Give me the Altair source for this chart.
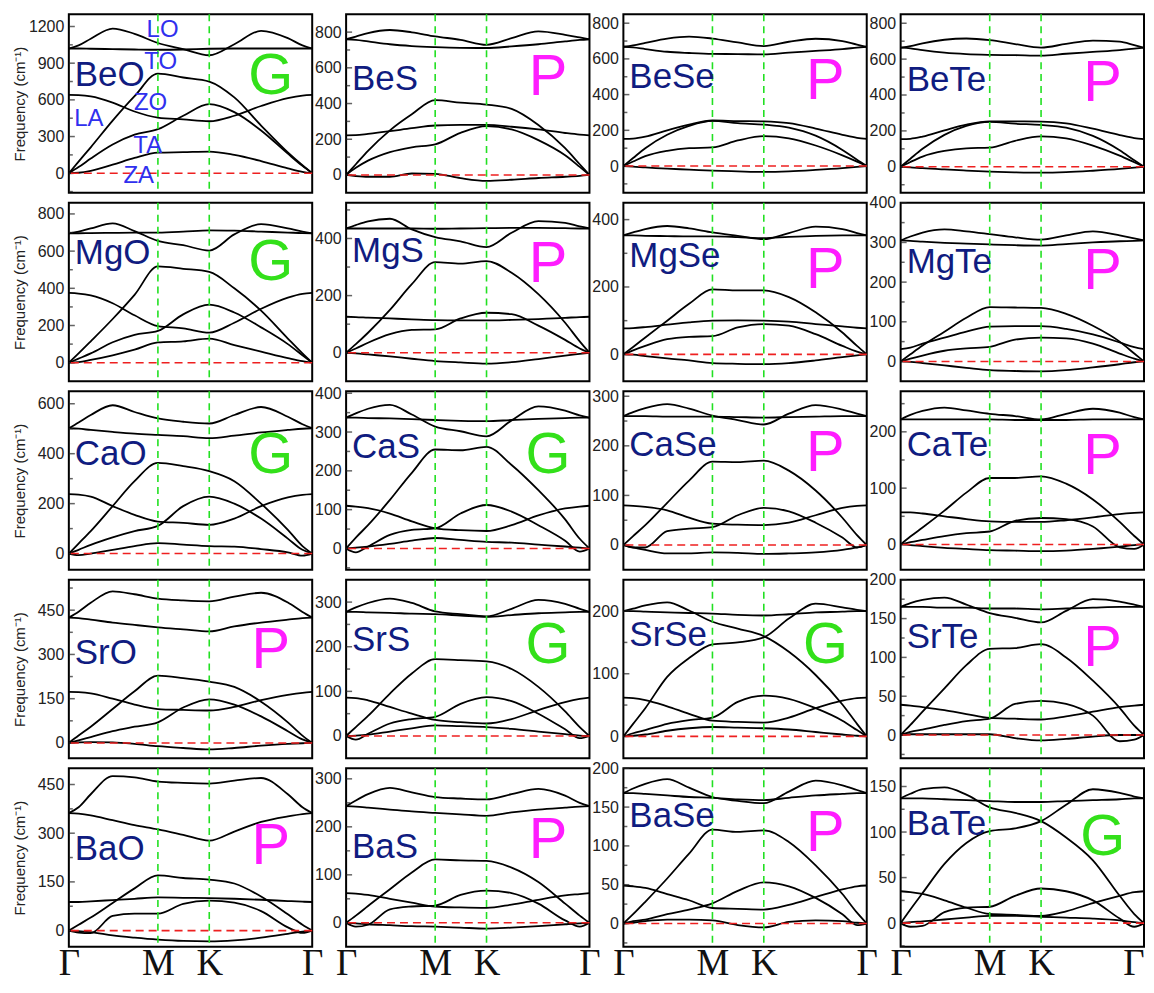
import altair as alt
import pandas as pd

# q-path sample positions: Γ ... M ... K ... Γ
XS = [0, 0.04, 0.09, 0.18, 0.27, 0.366, 0.47, 0.577, 0.68, 0.79, 0.90, 0.96, 1.0]
M_POS, K_POS = 0.366, 0.577
XTICKS = [0, 0.366, 0.577, 1.0]
BRANCHES = ["ZA", "TA", "LA", "ZO", "TO", "LO"]

# frequencies (cm^-1) of each branch at XS
BeO = [
    [0, 4, 20, 70, 125, 168, 172, 177, 150, 100, 40, 12, 0],
    [0, 50, 120, 235, 315, 360, 470, 565, 500, 350, 160, 60, 0],
    [0, 95, 212, 430, 630, 815, 783, 750, 620, 390, 170, 65, 0],
    [640, 638, 628, 578, 505, 455, 440, 425, 470, 550, 615, 635, 640],
    [1020, 1020, 1018, 1015, 1012, 1010, 1012, 1018, 1020, 1020, 1020, 1020, 1020],
    [1020, 1045, 1100, 1183, 1140, 1065, 1015, 965, 1055, 1165, 1105, 1045, 1020],
]
BeS = [
    [0, -6, -10, -10, 8, 6, -18, -33, -27, -17, -10, -5, 0],
    [0, 40, 80, 128, 155, 171, 236, 273, 255, 195, 110, 45, 0],
    [0, 60, 135, 250, 340, 419, 405, 394, 370, 280, 150, 60, 0],
    [222, 223, 230, 245, 262, 277, 280, 280, 270, 255, 235, 226, 222],
    [760, 757, 748, 732, 722, 716, 712, 711, 720, 732, 748, 756, 760],
    [760, 775, 795, 812, 799, 776, 757, 729, 766, 804, 785, 770, 760],
]
BeSe = [
    [0, -3, -8, -15, -20, -26, -30, -33, -30, -22, -12, -5, 0],
    [0, 25, 55, 85, 100, 104, 143, 167, 155, 115, 60, 25, 0],
    [0, 45, 100, 175, 225, 253, 240, 232, 215, 170, 90, 35, 0],
    [152, 154, 165, 200, 232, 255, 252, 250, 240, 210, 175, 158, 152],
    [668, 664, 655, 640, 633, 628, 627, 625, 635, 645, 655, 663, 668],
    [668, 676, 690, 714, 725, 714, 692, 672, 696, 713, 700, 680, 668],
]
BeTe = [
    [0, -3, -8, -15, -21, -27, -31, -33, -30, -22, -12, -5, 0],
    [0, 27, 57, 88, 103, 107, 145, 170, 158, 118, 62, 25, 0],
    [0, 45, 100, 178, 228, 250, 240, 233, 218, 172, 92, 36, 0],
    [154, 156, 168, 203, 235, 253, 253, 252, 242, 212, 177, 160, 154],
    [664, 660, 650, 636, 628, 624, 622, 619, 630, 640, 650, 658, 664],
    [664, 672, 688, 708, 715, 706, 684, 664, 685, 703, 698, 678, 664],
]
MgO = [
    [0, 3, 15, 40, 70, 109, 115, 130, 95, 60, 25, 8, 0],
    [0, 22, 50, 110, 150, 171, 260, 312, 270, 190, 100, 40, 0],
    [0, 50, 115, 235, 365, 518, 505, 488, 400, 280, 130, 50, 0],
    [375, 372, 362, 320, 255, 197, 185, 162, 215, 290, 350, 370, 375],
    [696, 696, 697, 698, 699, 700, 705, 712, 710, 705, 700, 697, 696],
    [696, 705, 722, 749, 708, 655, 632, 603, 690, 745, 722, 705, 696],
]
MgS = [
    [0, -2, -6, -13, -21, -29, -34, -38, -33, -22, -10, -4, 0],
    [0, 15, 35, 65, 80, 82, 120, 140, 135, 95, 45, 15, 0],
    [0, 30, 70, 150, 240, 317, 312, 321, 280, 205, 105, 40, 0],
    [126, 125, 123, 120, 117, 114, 113, 113, 115, 118, 122, 125, 126],
    [435, 435, 435, 435, 435, 434, 435, 436, 437, 437, 436, 435, 435],
    [435, 447, 460, 469, 432, 405, 390, 370, 420, 461, 455, 442, 435],
]
MgSe = [
    [0, -1, -5, -12, -18, -26, -28, -29, -26, -18, -8, -3, 0],
    [0, 12, 25, 45, 52, 54, 80, 90, 85, 60, 25, 8, 0],
    [0, 22, 50, 100, 150, 193, 190, 190, 170, 125, 65, 25, 0],
    [77, 78, 81, 88, 95, 100, 101, 100, 97, 90, 83, 79, 77],
    [353, 353, 352, 351, 350, 350, 348, 345, 349, 352, 353, 353, 353],
    [353, 362, 372, 381, 374, 362, 352, 342, 360, 379, 372, 360, 353],
]
MgTe = [
    [0, -1, -4, -10, -16, -22, -24, -25, -22, -15, -7, -2, 0],
    [0, 7, 15, 27, 33, 37, 55, 60, 58, 45, 20, 7, 0],
    [0, 18, 40, 75, 110, 137, 136, 135, 120, 90, 50, 20, 0],
    [31, 35, 45, 60, 75, 88, 89, 89, 82, 68, 48, 36, 31],
    [305, 304, 302, 299, 297, 295, 293, 292, 296, 300, 303, 304, 305],
    [305, 315, 325, 333, 328, 321, 313, 307, 318, 328, 318, 310, 305],
]
CaO = [
    [0, -6, 0, 15, 30, 42, 36, 30, 28, 18, 5, -8, 0],
    [0, 15, 35, 65, 90, 111, 190, 228, 200, 140, 60, 15, 0],
    [0, 40, 90, 190, 290, 363, 350, 330, 290, 200, 95, 30, 0],
    [238, 236, 228, 190, 155, 128, 123, 115, 140, 190, 225, 235, 238],
    [502, 500, 495, 487, 480, 475, 470, 462, 472, 485, 495, 500, 502],
    [502, 525, 555, 594, 567, 541, 528, 521, 555, 587, 548, 518, 502],
]
CaS = [
    [0, 2, 5, 12, 20, 27, 22, 17, 15, 10, 5, 2, 0],
    [0, -10, 5, 35, 48, 52, 90, 112, 95, 60, 20, -8, 0],
    [0, 28, 60, 125, 195, 255, 253, 262, 215, 150, 75, 25, 0],
    [110, 108, 104, 90, 70, 52, 47, 45, 60, 85, 103, 108, 110],
    [337, 337, 336, 335, 333, 331, 329, 328, 331, 334, 336, 337, 337],
    [337, 348, 360, 370, 345, 314, 302, 289, 330, 366, 355, 343, 337],
]
CaSe = [
    [0, -5, -10, -17, -17, -15, -16, -18, -17, -15, -10, -5, 0],
    [0, -5, -5, 28, 33, 36, 60, 75, 68, 45, 15, -5, 0],
    [0, 18, 40, 85, 130, 168, 167, 170, 150, 110, 55, 20, 0],
    [80, 79, 77, 70, 55, 43, 41, 40, 45, 60, 75, 79, 80],
    [260, 260, 260, 259, 259, 259, 258, 257, 258, 259, 260, 260, 260],
    [260, 268, 276, 284, 275, 261, 252, 243, 265, 282, 273, 265, 260],
]
CaTe = [
    [0, -1, -3, -6, -8, -10, -11, -12, -11, -8, -4, -1, 0],
    [0, 4, 8, 15, 20, 23, 42, 47, 45, 32, -5, -8, 0],
    [0, 14, 30, 60, 92, 118, 118, 121, 108, 80, 40, 15, 0],
    [57, 57, 55, 50, 45, 41, 40, 40, 43, 48, 54, 56, 57],
    [222, 222, 222, 222, 222, 222, 221, 221, 221, 222, 222, 222, 222],
    [222, 230, 237, 243, 238, 232, 228, 222, 232, 241, 234, 226, 222],
]
SrO = [
    [0, 2, 3, 2, -3, -11, -17, -22, -17, -9, -3, -1, 0],
    [0, 9, 20, 40, 55, 70, 120, 148, 130, 90, 40, 12, 0],
    [0, 25, 55, 115, 175, 228, 220, 208, 190, 140, 70, 25, 0],
    [173, 172, 168, 150, 130, 115, 112, 110, 122, 145, 163, 170, 173],
    [425, 423, 418, 408, 400, 392, 385, 378, 395, 408, 418, 423, 425],
    [425, 445, 475, 514, 504, 489, 483, 480, 496, 509, 476, 444, 425],
]
SrS = [
    [0, 1, 3, 10, 17, 24, 22, 20, 16, 10, 4, 1, 0],
    [0, -8, 5, 28, 38, 43, 72, 87, 78, 50, 15, -5, 0],
    [0, 20, 45, 95, 140, 172, 170, 167, 150, 110, 55, 20, 0],
    [86, 85, 80, 65, 50, 36, 31, 28, 38, 58, 76, 83, 86],
    [278, 278, 277, 276, 274, 273, 270, 267, 271, 275, 277, 278, 278],
    [278, 288, 298, 308, 298, 279, 273, 268, 285, 305, 296, 285, 278],
]
SrSe = [
    [0, 1, 3, 9, 13, 15, 14, 13, 11, 7, 3, 1, 0],
    [0, 5, 10, 20, 26, 30, 55, 65, 60, 45, 25, 10, 0],
    [0, 20, 45, 95, 125, 147, 150, 158, 188, 212, 206, 202, 200],
    [62, 61, 58, 48, 36, 25, 23, 22, 30, 45, 57, 61, 62],
    [200, 200, 199, 198, 197, 196, 194, 193, 195, 198, 199, 200, 200],
    [200, 204, 209, 214, 201, 183, 172, 160, 135, 98, 51, 20, 0],
]
SrTe = [
    [0, 1, 1, 1, 1, 1, -4, -7, -5, -2, 0, 0, 0],
    [0, 4, 7, 13, 18, 21, 40, 44, 40, 25, -8, -6, 0],
    [0, 13, 30, 60, 90, 111, 112, 117, 100, 70, 35, 12, 0],
    [39, 38, 36, 32, 27, 22, 21, 20, 24, 30, 36, 38, 39],
    [165, 165, 165, 164, 164, 163, 163, 162, 163, 164, 165, 165, 165],
    [165, 170, 174, 177, 168, 157, 151, 145, 160, 175, 172, 168, 165],
]
BaO = [
    [0, -2, -5, -15, -22, -28, -32, -33, -30, -22, -10, -3, 0],
    [0, -6, -8, 45, 52, 52, 82, 92, 86, 60, 10, -7, 0],
    [0, 18, 40, 85, 130, 170, 162, 157, 145, 105, 50, 18, 0],
    [88, 88, 90, 94, 98, 102, 101, 100, 98, 95, 91, 89, 88],
    [362, 360, 355, 340, 325, 312, 295, 277, 305, 335, 352, 359, 362],
    [362, 380, 420, 476, 472, 459, 455, 453, 462, 470, 420, 380, 362],
]
BaS = [
    [0, -1, -3, -5, -7, -8, -10, -12, -10, -7, -3, -1, 0],
    [0, -8, -4, 28, 34, 36, 58, 67, 62, 40, 5, -8, 0],
    [0, 15, 35, 70, 105, 132, 130, 129, 115, 85, 40, 15, 0],
    [62, 61, 58, 50, 42, 34, 32, 31, 38, 48, 57, 60, 62],
    [243, 242, 240, 236, 232, 229, 226, 223, 230, 236, 240, 242, 243],
    [243, 255, 268, 281, 272, 262, 259, 257, 268, 279, 265, 250, 243],
]
BaSe = [
    [0, 1, 3, 5, 5, 4, -2, -5, 2, 4, 3, 1, 0],
    [0, 3, 5, 12, 18, 26, 42, 53, 48, 33, 12, -2, 0],
    [0, 12, 28, 58, 90, 121, 118, 120, 105, 75, 38, 14, 0],
    [49, 48, 46, 38, 30, 20, 19, 18, 24, 34, 44, 48, 49],
    [168, 168, 167, 165, 163, 162, 160, 159, 162, 165, 167, 168, 168],
    [168, 174, 180, 186, 175, 163, 158, 155, 170, 184, 178, 172, 168],
]
BaTe = [
    [0, 1, 2, 4, 6, 8, 8, 7, 6, 5, 3, 1, 0],
    [0, -4, -3, 12, 17, 18, 30, 38, 35, 25, 5, -4, 0],
    [0, 15, 33, 65, 88, 101, 104, 112, 130, 147, 143, 139, 137],
    [35, 34, 32, 25, 17, 10, 9, 8, 13, 22, 30, 34, 35],
    [137, 137, 137, 136, 135, 134, 133, 133, 134, 135, 136, 137, 137],
    [137, 142, 147, 149, 141, 127, 121, 112, 94, 69, 30, 10, 0],
]

NAMES = ["BeO", "BeS", "BeSe", "BeTe", "MgO", "MgS", "MgSe", "MgTe",
         "CaO", "CaS", "CaSe", "CaTe", "SrO", "SrS", "SrSe", "SrTe",
         "BaO", "BaS", "BaSe", "BaTe"]
BANDS = [BeO, BeS, BeSe, BeTe, MgO, MgS, MgSe, MgTe, CaO, CaS, CaSe, CaTe,
         SrO, SrS, SrSe, SrTe, BaO, BaS, BaSe, BaTe]
KIND = ["G", "P", "P", "P", "G", "P", "P", "P", "G", "G", "P", "P",
        "P", "G", "G", "P", "P", "P", "P", "G"]
DOMAINS = [(-160, 1300), (-100, 900), (-150, 850), (-145, 850),
           (-100, 860), (-100, 525), (-80, 450), (-50, 400),
           (-65, 650), (-55, 405), (-50, 310), (-45, 272),
           (-52, 553), (-50, 350), (-35, 250), (-30, 200),
           (-50, 500), (-50, 322), (-30, 200), (-26, 170)]
MAJOR = [300, 200, 200, 200, 200, 200, 200, 100, 200, 100, 100, 100,
         150, 100, 100, 50, 150, 100, 50, 50]
NAME_Y = [0.34, 0.36, 0.35, 0.37, 0.28, 0.27, 0.30, 0.33, 0.35, 0.31, 0.30, 0.30,
          0.41, 0.34, 0.31, 0.32, 0.45, 0.44, 0.27, 0.31]
KIND_Y = [0.35, 0.36, 0.38, 0.39, 0.34, 0.35, 0.38, 0.39, 0.36, 0.36, 0.35, 0.37,
          0.40, 0.37, 0.37, 0.39, 0.44, 0.41, 0.37, 0.39]
BEO_LABELS = ["LO", "TO", "ZO", "LA", "TA", "ZA"]
BEO_LABEL_POS = [(0.385, 0.088), (0.377, 0.265), (0.336, 0.497),
                 (0.082, 0.586), (0.324, 0.74), (0.287, 0.906)]

W, H = 244, 179
NAVY = "#101c80"
GREEN = "#33e01a"
MAGENTA = "#ff1cff"
FONT = "Liberation Sans"
AXIS_GREY = "#222222"


def panel(i):
    r, c = divmod(i, 4)
    rows = []
    for b, vals in zip(BRANCHES, BANDS[i]):
        for x, v in zip(XS, vals):
            rows.append({"x": x, "f": v, "b": b})
    df = pd.DataFrame(rows)
    lo, hi = DOMAINS[i]
    major = MAJOR[i]
    minor = major // 2
    major_ticks = [v for v in range(0, hi + 1, major)]
    minor_ticks = [v for v in range(-major, hi + 1, minor)
                   if v % major != 0 and lo < v < hi]

    yscale = alt.Scale(domain=[lo, hi], nice=False, zero=False)
    yaxis_kw = dict(values=major_ticks, format="d", ticks=False, grid=False,
                    domain=False, labelPadding=5)
    if c == 0:
        yaxis_kw.update(title="Frequency (cm\u207b\u00b9)", minExtent=38, maxExtent=38,
                        titlePadding=3, titleFontSize=15, titleFont=FONT,
                        titleFontWeight="normal", titleColor=AXIS_GREY)
        Y = alt.Y("f:Q", scale=yscale, axis=alt.Axis(**yaxis_kw))
    else:
        Y = alt.Y("f:Q", scale=yscale, axis=alt.Axis(**yaxis_kw), title=None)

    xscale = alt.Scale(domain=[0, 1], nice=False, zero=False)
    if r == 4:
        align = "center"
        if c == 3:
            align = {"condition": {"test": "datum.value == 1", "value": "right"},
                     "value": "center"}
        X = alt.X("x:Q", scale=xscale, title=None,
                  axis=alt.Axis(values=XTICKS, ticks=False, tickSize=0, domain=False,
                                grid=False,
                                labelExpr="datum.value == 0 || datum.value == 1 ? '\u0393' : (datum.value < 0.5 ? 'M' : 'K')",
                                labelFont="Liberation Serif", labelFontSize=37,
                                labelColor="#111111", labelPadding=28,
                                labelBaseline="alphabetic", labelAlign=align,
                                labelOverlap=False, labelFlush=False, labelBound=False))
    else:
        X = alt.X("x:Q", scale=xscale, axis=None)

    lines = alt.Chart(df).mark_line(interpolate="monotone", color="black",
                                    strokeWidth=1.8, clip=True).encode(
        x=X, y=Y, detail="b:N")
    tmaj = alt.Chart(pd.DataFrame({"f": major_ticks})).mark_tick(
        orient="horizontal", size=6, thickness=1.5, color=AXIS_GREY).encode(
        x=alt.value(3), y=Y)
    layers = [lines, tmaj]
    if minor_ticks:
        layers.append(alt.Chart(pd.DataFrame({"f": minor_ticks})).mark_tick(
            orient="horizontal", size=4, thickness=1.5, color=AXIS_GREY).encode(
            x=alt.value(2), y=Y))
    vrules = alt.Chart(pd.DataFrame({"x": [M_POS, K_POS]})).mark_rule(
        color="#22e022", strokeDash=[7, 5], strokeWidth=1.6).encode(x=X)
    zero = alt.Chart(pd.DataFrame({"f": [0]})).mark_rule(
        color="#ee2020", strokeDash=[8, 5], strokeWidth=1.6).encode(y=Y)
    name = alt.Chart(pd.DataFrame({"t": [NAMES[i]]})).mark_text(
        align="left", baseline="middle", font=FONT, fontSize=35, color=NAVY).encode(
        x=alt.value(6), y=alt.value(NAME_Y[i] * H), text="t:N")
    kind = alt.Chart(pd.DataFrame({"t": [KIND[i]]})).mark_text(
        align="center", baseline="middle", font=FONT, fontSize=58,
        color=GREEN if KIND[i] == "G" else MAGENTA).encode(
        x=alt.value(0.83 * W), y=alt.value(KIND_Y[i] * H), text="t:N")
    layers += [vrules, zero, name, kind]
    if i == 0:
        for lab, (fx, fy) in zip(BEO_LABELS, BEO_LABEL_POS):
            layers.append(alt.Chart(pd.DataFrame({"t": [lab]})).mark_text(
                align="center", baseline="middle", font=FONT, fontSize=24,
                color="#3030ee").encode(x=alt.value(fx * W), y=alt.value(fy * H), text="t:N"))
    return alt.layer(*layers).properties(width=W, height=H)


panels = [panel(i) for i in range(20)]
chart = alt.concat(*panels, columns=4, spacing={"row": 10, "column": 34},
                   bounds="flush").properties(
    padding={"left": 4, "top": 3, "right": 0, "bottom": 0}
).configure_view(stroke="black", strokeWidth=2).configure_axis(
    labelFont=FONT, labelFontSize=16, labelColor=AXIS_GREY
)

chart.save("out.html", embed_options={"renderer": "svg", "actions": False})
